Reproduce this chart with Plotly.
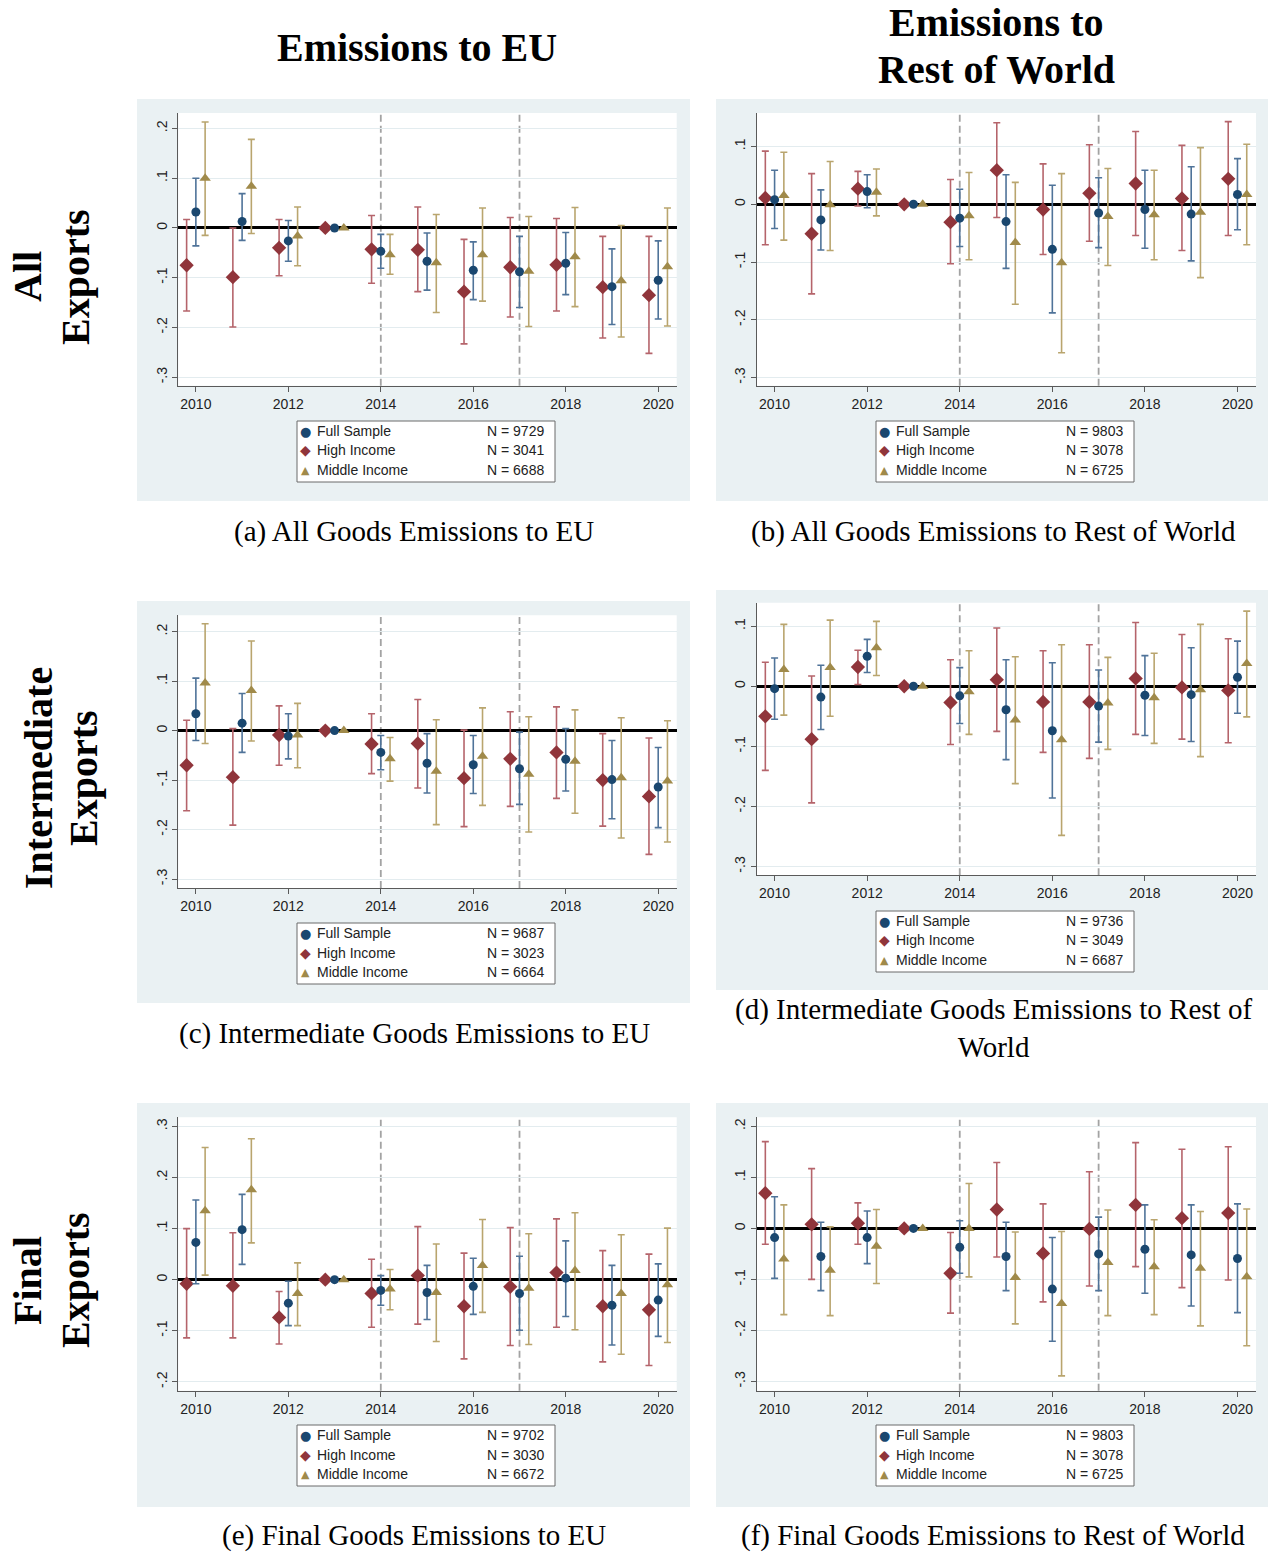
import plotly.graph_objects as go

W, H = 1268, 1552
YEARS = list(range(2010, 2021))
XTICKS = [2010, 2012, 2014, 2016, 2018, 2020]
GROUPS = ["High Income", "Full Sample", "Middle Income"]

# ---------------- Panel (a): All Goods Emissions to EU ----------------
A_FULL = [0.032, 0.013, -0.026, 0, -0.047, -0.067, -0.085, -0.088, -0.071, -0.118, -0.105]
A_FULL_LO = [-0.036, -0.025, -0.067, None, -0.081, -0.125, -0.144, -0.160, -0.134, -0.194, -0.183]
A_FULL_HI = [0.100, 0.069, 0.015, None, -0.013, -0.010, -0.028, -0.017, -0.009, -0.042, -0.026]
A_HIGH = [-0.075, -0.099, -0.040, 0, -0.043, -0.044, -0.128, -0.079, -0.074, -0.119, -0.135]
A_HIGH_LO = [-0.167, -0.199, -0.096, None, -0.111, -0.128, -0.233, -0.179, -0.167, -0.221, -0.252]
A_HIGH_HI = [0.017, 0.000, 0.017, None, 0.025, 0.042, -0.023, 0.021, 0.019, -0.017, -0.017]
A_MID = [0.100, 0.084, -0.016, 0, -0.054, -0.070, -0.054, -0.087, -0.058, -0.106, -0.078]
A_MID_LO = [-0.015, -0.011, -0.076, None, -0.093, -0.170, -0.147, -0.198, -0.158, -0.219, -0.197]
A_MID_HI = [0.213, 0.178, 0.042, None, -0.013, 0.027, 0.040, 0.023, 0.041, 0.005, 0.040]
A_N = ["9729", "3041", "6688"]

# ---------------- Panel (b): All Goods Emissions to Rest of World ----------------
B_FULL = [0.008, -0.027, 0.022, 0, -0.024, -0.030, -0.078, -0.015, -0.009, -0.017, 0.017]
B_FULL_LO = [-0.042, -0.079, -0.006, None, -0.073, -0.111, -0.188, -0.075, -0.076, -0.098, -0.044]
B_FULL_HI = [0.059, 0.025, 0.051, None, 0.026, 0.051, 0.033, 0.046, 0.059, 0.065, 0.079]
B_HIGH = [0.011, -0.051, 0.027, 0, -0.031, 0.059, -0.009, 0.019, 0.036, 0.010, 0.044]
B_HIGH_LO = [-0.070, -0.155, -0.003, None, -0.103, -0.023, -0.087, -0.064, -0.054, -0.080, -0.054]
B_HIGH_HI = [0.092, 0.053, 0.057, None, 0.043, 0.141, 0.070, 0.103, 0.126, 0.102, 0.143]
B_MID = [0.015, -0.001, 0.021, 0, -0.020, -0.066, -0.101, -0.021, -0.018, -0.014, 0.017]
B_MID_LO = [-0.062, -0.080, -0.020, None, -0.096, -0.173, -0.257, -0.106, -0.096, -0.127, -0.070]
B_MID_HI = [0.090, 0.074, 0.061, None, 0.055, 0.038, 0.053, 0.062, 0.059, 0.098, 0.104]
B_N = ["9803", "3078", "6725"]

# ---------------- Panel (c): Intermediate Goods Emissions to EU ----------------
C_FULL = [0.034, 0.015, -0.011, 0, -0.044, -0.066, -0.069, -0.077, -0.058, -0.099, -0.114]
C_FULL_LO = [-0.020, -0.044, -0.057, None, -0.079, -0.126, -0.127, -0.149, -0.122, -0.178, -0.196]
C_FULL_HI = [0.106, 0.075, 0.034, None, -0.010, -0.006, -0.010, -0.003, 0.004, -0.020, -0.034]
C_HIGH = [-0.070, -0.094, -0.009, 0, -0.027, -0.026, -0.096, -0.057, -0.044, -0.100, -0.133]
C_HIGH_LO = [-0.162, -0.191, -0.070, None, -0.087, -0.116, -0.194, -0.153, -0.137, -0.193, -0.250]
C_HIGH_HI = [0.021, 0.004, 0.050, None, 0.034, 0.063, 0.001, 0.038, 0.048, -0.006, -0.015]
C_MID = [0.096, 0.081, -0.009, 0, -0.057, -0.082, -0.052, -0.088, -0.062, -0.095, -0.102]
C_MID_LO = [-0.026, -0.021, -0.075, None, -0.102, -0.190, -0.151, -0.205, -0.167, -0.217, -0.225]
C_MID_HI = [0.216, 0.181, 0.055, None, -0.014, 0.022, 0.046, 0.028, 0.042, 0.026, 0.020]
C_N = ["9687", "3023", "6664"]

# ---------------- Panel (d): Intermediate Goods Emissions to Rest of World ----------------
D_FULL = [-0.004, -0.018, 0.050, 0, -0.016, -0.039, -0.074, -0.033, -0.015, -0.014, 0.015]
D_FULL_LO = [-0.055, -0.072, 0.023, None, -0.062, -0.122, -0.186, -0.093, -0.082, -0.092, -0.045]
D_FULL_HI = [0.047, 0.035, 0.078, None, 0.031, 0.044, 0.039, 0.027, 0.051, 0.064, 0.075]
D_HIGH = [-0.050, -0.088, 0.032, 0, -0.027, 0.011, -0.026, -0.026, 0.013, -0.002, -0.007]
D_HIGH_LO = [-0.140, -0.194, 0.003, None, -0.097, -0.075, -0.110, -0.120, -0.080, -0.088, -0.094]
D_HIGH_HI = [0.040, 0.017, 0.060, None, 0.044, 0.097, 0.059, 0.069, 0.106, 0.086, 0.079]
D_MID = [0.028, 0.031, 0.064, 0, -0.009, -0.056, -0.089, -0.028, -0.019, -0.006, 0.038]
D_MID_LO = [-0.048, -0.050, 0.018, None, -0.080, -0.162, -0.248, -0.105, -0.095, -0.117, -0.051]
D_MID_HI = [0.103, 0.110, 0.108, None, 0.059, 0.049, 0.069, 0.048, 0.055, 0.103, 0.125]
D_N = ["9736", "3049", "6687"]

# ---------------- Panel (e): Final Goods Emissions to EU ----------------
E_FULL = [0.073, 0.098, -0.046, 0, -0.021, -0.025, -0.013, -0.027, 0.003, -0.050, -0.040]
E_FULL_LO = [-0.008, 0.030, -0.090, None, -0.050, -0.078, -0.068, -0.099, -0.072, -0.128, -0.111]
E_FULL_HI = [0.156, 0.167, -0.003, None, 0.008, 0.028, 0.042, 0.046, 0.076, 0.028, 0.031]
E_HIGH = [-0.008, -0.012, -0.074, 0, -0.027, 0.008, -0.052, -0.014, 0.014, -0.052, -0.059]
E_HIGH_LO = [-0.114, -0.114, -0.126, None, -0.093, -0.087, -0.155, -0.129, -0.093, -0.161, -0.168]
E_HIGH_HI = [0.100, 0.092, -0.023, None, 0.040, 0.104, 0.052, 0.102, 0.119, 0.057, 0.050]
E_MID = [0.135, 0.176, -0.027, 0, -0.018, -0.025, 0.028, -0.017, 0.018, -0.027, -0.010]
E_MID_LO = [0.009, 0.072, -0.090, None, -0.059, -0.121, -0.064, -0.127, -0.098, -0.146, -0.123]
E_MID_HI = [0.259, 0.276, 0.033, None, 0.020, 0.070, 0.118, 0.090, 0.131, 0.088, 0.101]
E_N = ["9702", "3030", "6672"]

# ---------------- Panel (f): Final Goods Emissions to Rest of World ----------------
F_FULL = [-0.018, -0.055, -0.018, 0, -0.037, -0.055, -0.119, -0.050, -0.041, -0.052, -0.059]
F_FULL_LO = [-0.098, -0.122, -0.069, None, -0.088, -0.122, -0.221, -0.122, -0.127, -0.152, -0.165]
F_FULL_HI = [0.062, 0.012, 0.034, None, 0.015, 0.012, -0.018, 0.022, 0.046, 0.046, 0.048]
F_HIGH = [0.069, 0.008, 0.010, 0, -0.088, 0.037, -0.049, -0.001, 0.046, 0.020, 0.030]
F_HIGH_LO = [-0.031, -0.100, -0.031, None, -0.166, -0.056, -0.144, -0.113, -0.075, -0.116, -0.101]
F_HIGH_HI = [0.170, 0.117, 0.050, None, -0.008, 0.129, 0.048, 0.111, 0.168, 0.155, 0.160]
F_MID = [-0.060, -0.082, -0.035, 0, 0.000, -0.096, -0.147, -0.067, -0.075, -0.078, -0.095]
F_MID_LO = [-0.169, -0.171, -0.108, None, -0.095, -0.187, -0.289, -0.171, -0.169, -0.191, -0.230]
F_MID_HI = [0.046, 0.003, 0.037, None, 0.088, -0.007, -0.006, 0.036, 0.017, 0.033, 0.038]
F_N = ["9803", "3078", "6725"]

CAPTIONS = [
    "(a) All Goods Emissions to EU",
    "(b) All Goods Emissions to Rest of World",
    "(c) Intermediate Goods Emissions to EU",
    "(d) Intermediate Goods Emissions to Rest of<br>World",
    "(e) Final Goods Emissions to EU",
    "(f) Final Goods Emissions to Rest of World",
]

# ---------------- styling / layout ----------------
COL_FULL = "#1a476f"
COL_HIGH = "#90353b"
COL_MID = "#a08a4a"
ERR_FULL = "#4f7399"
ERR_HIGH = "#b5646b"
ERR_MID = "#b9a56e"
BG = "#eaf1f3"
AXC = "#5a5a5a"
TICKFONT = dict(family="Liberation Sans, Arial, sans-serif", size=14, color="#222222")

PANELS = [
    dict(data=[(A_HIGH, A_HIGH_LO, A_HIGH_HI), (A_FULL, A_FULL_LO, A_FULL_HI), (A_MID, A_MID_LO, A_MID_HI)],
         N=A_N, bg=(137, 99, 690, 501), plot=(178.3, 113, 676.7, 385.7), yr=[-0.317, 0.231],
         yt=[-0.3, -0.2, -0.1, 0, 0.1, 0.2], leg=(297, 421), cap=(414, 531)),
    dict(data=[(B_HIGH, B_HIGH_LO, B_HIGH_HI), (B_FULL, B_FULL_LO, B_FULL_HI), (B_MID, B_MID_LO, B_MID_HI)],
         N=B_N, bg=(716, 99, 1268, 501), plot=(757, 113, 1256, 385.7), yr=[-0.314, 0.158],
         yt=[-0.3, -0.2, -0.1, 0, 0.1], leg=(876, 421), cap=(993, 531)),
    dict(data=[(C_HIGH, C_HIGH_LO, C_HIGH_HI), (C_FULL, C_FULL_LO, C_FULL_HI), (C_MID, C_MID_LO, C_MID_HI)],
         N=C_N, bg=(137, 601, 690, 1003), plot=(178.3, 615.3, 676.7, 888), yr=[-0.318, 0.233],
         yt=[-0.3, -0.2, -0.1, 0, 0.1, 0.2], leg=(297, 923), cap=(414, 1033)),
    dict(data=[(D_HIGH, D_HIGH_LO, D_HIGH_HI), (D_FULL, D_FULL_LO, D_FULL_HI), (D_MID, D_MID_LO, D_MID_HI)],
         N=D_N, bg=(716, 590, 1268, 990), plot=(757, 602.7, 1256, 875.3), yr=[-0.3145, 0.139],
         yt=[-0.3, -0.2, -0.1, 0, 0.1], leg=(876, 911), cap=(993, 1028)),
    dict(data=[(E_HIGH, E_HIGH_LO, E_HIGH_HI), (E_FULL, E_FULL_LO, E_FULL_HI), (E_MID, E_MID_LO, E_MID_HI)],
         N=E_N, bg=(137, 1103, 690, 1507), plot=(178.3, 1117.3, 676.7, 1390.7), yr=[-0.2174, 0.318],
         yt=[-0.2, -0.1, 0, 0.1, 0.2, 0.3], leg=(297, 1425), cap=(414, 1535)),
    dict(data=[(F_HIGH, F_HIGH_LO, F_HIGH_HI), (F_FULL, F_FULL_LO, F_FULL_HI), (F_MID, F_MID_LO, F_MID_HI)],
         N=F_N, bg=(716, 1103, 1268, 1507), plot=(757, 1117.3, 1256, 1390.7), yr=[-0.318, 0.2176],
         yt=[-0.3, -0.2, -0.1, 0, 0.1, 0.2], leg=(876, 1425), cap=(993, 1535)),
]

GROUP_STYLE = [
    dict(offset=-0.2, color=COL_HIGH, err=ERR_HIGH, symbol="diamond", size=11),
    dict(offset=0.0, color=COL_FULL, err=ERR_FULL, symbol="circle", size=9),
    dict(offset=0.2, color=COL_MID, err=ERR_MID, symbol="triangle-up", size=10),
]


def px(x):
    return x / W


def py(y):
    return 1 - y / H


def fmt_tick(v):
    if abs(v) < 1e-9:
        return "0"
    s = ("%.1f" % v)
    return s.replace("0.", ".")


fig = go.Figure()
shapes = []
annotations = []
layout_axes = {}

for i, p in enumerate(PANELS):
    n = i + 1
    xs = "x" if n == 1 else "x%d" % n
    ys = "y" if n == 1 else "y%d" % n
    xkey = "xaxis" if n == 1 else "xaxis%d" % n
    ykey = "yaxis" if n == 1 else "yaxis%d" % n

    bx0, by0, bx1, by1 = p["bg"]
    shapes.append(dict(type="rect", xref="paper", yref="paper", x0=px(bx0), x1=px(bx1),
                       y0=py(by1), y1=py(by0), fillcolor=BG, line=dict(width=0), layer="below"))
    x0, y0, x1, y1 = p["plot"]
    shapes.append(dict(type="rect", xref="paper", yref="paper", x0=px(x0), x1=px(x1),
                       y0=py(y1), y1=py(y0), fillcolor="white", line=dict(width=0), layer="below"))

    layout_axes[xkey] = dict(domain=[px(x0), px(x1)], range=[2009.62, 2020.4], anchor=ys,
                             tickvals=XTICKS, ticktext=[str(t) for t in XTICKS], ticks="outside",
                             ticklen=5, tickcolor=AXC, tickwidth=1, showline=True, linecolor=AXC,
                             linewidth=1.3, showgrid=False, zeroline=False, tickfont=TICKFONT)
    layout_axes[ykey] = dict(domain=[py(y1), py(y0)], range=p["yr"], anchor=xs,
                             tickvals=p["yt"], ticktext=[fmt_tick(v) for v in p["yt"]], tickangle=-90,
                             ticks="outside", ticklen=5, tickcolor=AXC, tickwidth=1, showline=True,
                             linecolor=AXC, linewidth=1.3, showgrid=True, gridcolor="#e3ecef",
                             gridwidth=1, zeroline=True, zerolinecolor="black", zerolinewidth=3,
                             tickfont=TICKFONT)

    for xv in (2014, 2017):
        shapes.append(dict(type="line", xref=xs, yref=ys + " domain", x0=xv, x1=xv, y0=0, y1=1,
                           line=dict(color="#a3a3a3", width=1.8, dash="7px,4px"), layer="below"))

    for (vals, lo, hi), st, gname in zip(p["data"], GROUP_STYLE, GROUPS):
        ex, ey, eup, edn = [], [], [], []
        for yr, v, l, h in zip(YEARS, vals, lo, hi):
            if l is None or h is None:
                continue
            ex.append(yr + st["offset"])
            ey.append(v)
            eup.append(h - v)
            edn.append(v - l)
        fig.add_trace(go.Scatter(x=ex, y=ey, mode="markers", xaxis=xs, yaxis=ys, showlegend=False,
                                 marker=dict(size=1, opacity=0),
                                 error_y=dict(type="data", array=eup, arrayminus=edn, symmetric=False,
                                              color=st["err"], thickness=1.6, width=3.5),
                                 hoverinfo="skip"))
        fig.add_trace(go.Scatter(x=[yr + st["offset"] for yr in YEARS], y=vals, mode="markers",
                                 xaxis=xs, yaxis=ys, showlegend=False, name=gname,
                                 marker=dict(symbol=st["symbol"], size=st["size"], color=st["color"],
                                             line=dict(width=0))))

    # legend box
    lx, ly = p["leg"]
    shapes.append(dict(type="rect", xref="paper", yref="paper", x0=px(lx), x1=px(lx + 258),
                       y0=py(ly + 61), y1=py(ly), fillcolor="white",
                       line=dict(color="#6a6a6a", width=1), layer="below"))
    legend_rows = [("Full Sample", "●", COL_FULL, 13, p["N"][0]),
                   ("High Income", "◆", COL_HIGH, 14, p["N"][1]),
                   ("Middle Income", "▲", COL_MID, 11, p["N"][2])]
    for k, (lab, glyph, col, gs, nval) in enumerate(legend_rows):
        ry = ly + 10 + k * 19.5
        annotations.append(dict(xref="paper", yref="paper", x=px(lx + 8), y=py(ry), text=glyph,
                                showarrow=False, xanchor="center", yanchor="middle",
                                font=dict(family="DejaVu Sans", size=gs, color=col)))
        annotations.append(dict(xref="paper", yref="paper", x=px(lx + 18), y=py(ry), text=lab,
                                showarrow=False, xanchor="left", yanchor="middle",
                                font=TICKFONT))
        annotations.append(dict(xref="paper", yref="paper", x=px(lx + 188), y=py(ry), text="N = " + nval,
                                showarrow=False, xanchor="left", yanchor="middle",
                                font=TICKFONT))

    cx, cy = p["cap"]
    annotations.append(dict(xref="paper", yref="paper", x=px(cx), y=py(cy), text=CAPTIONS[i],
                            showarrow=False, xanchor="center", yanchor="middle",
                            font=dict(family="Liberation Serif, Times New Roman, serif", size=29,
                                      color="black")))

TITLE_FONT = dict(family="Liberation Serif, Times New Roman, serif", size=40, color="black")
for txt, cxp, cyp in [("Emissions to EU", 417, 47), ("Emissions to", 996, 23), ("Rest of World", 996, 70)]:
    annotations.append(dict(xref="paper", yref="paper", x=px(cxp), y=py(cyp), text="<b>%s</b>" % txt,
                            showarrow=False, xanchor="center", yanchor="middle", font=TITLE_FONT))
for txt, cxp, cyp in [("All", 27, 277), ("Exports", 75, 277),
                      ("Intermediate", 38, 778), ("Exports", 83, 778),
                      ("Final", 27, 1281), ("Exports", 75, 1280)]:
    annotations.append(dict(xref="paper", yref="paper", x=px(cxp), y=py(cyp), text="<b>%s</b>" % txt,
                            showarrow=False, xanchor="center", yanchor="middle", textangle=-90,
                            font=TITLE_FONT))

fig.update_layout(width=W, height=H, margin=dict(l=0, r=0, t=0, b=0),
                  paper_bgcolor="white", plot_bgcolor="white", showlegend=False,
                  shapes=shapes, annotations=annotations, **layout_axes)

fig.write_html("out.html")
